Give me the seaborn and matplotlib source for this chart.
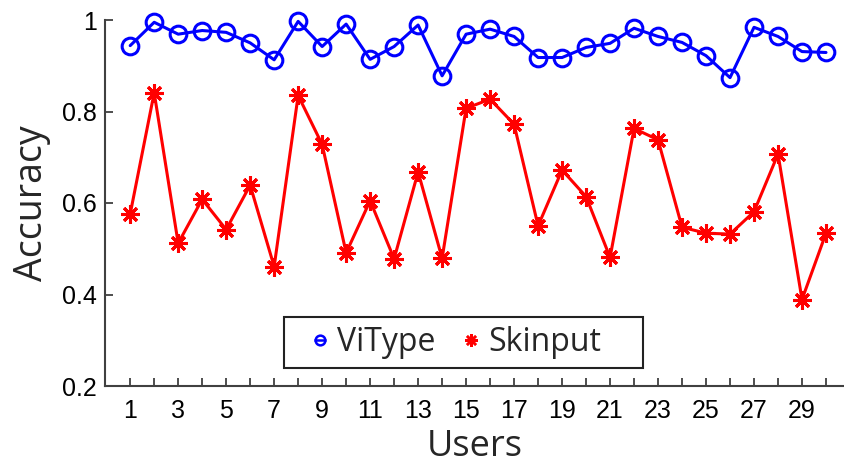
import numpy as np
import pandas as pd
import matplotlib
matplotlib.use("Agg")
import matplotlib.pyplot as plt
import seaborn as sns
from matplotlib.lines import Line2D
from matplotlib.patches import Rectangle
from matplotlib.legend_handler import HandlerTuple

users = list(range(1, 31))
vitype = [0.944, 0.995, 0.969, 0.977, 0.973, 0.950, 0.913, 0.997, 0.942, 0.991,
          0.914, 0.942, 0.989, 0.878, 0.969, 0.980, 0.964, 0.918, 0.918, 0.940,
          0.949, 0.982, 0.964, 0.951, 0.922, 0.874, 0.984, 0.964, 0.931, 0.929]
skinput = [0.576, 0.841, 0.512, 0.608, 0.542, 0.639, 0.461, 0.835, 0.728, 0.491,
           0.605, 0.478, 0.668, 0.479, 0.807, 0.827, 0.772, 0.550, 0.672, 0.614,
           0.481, 0.763, 0.738, 0.547, 0.534, 0.532, 0.581, 0.707, 0.389, 0.534]
yticks = [0.2, 0.4, 0.6, 0.8, 1.0]
ytick_labels = ["0.2", "0.4", "0.6", "0.8", "1"]

df = pd.DataFrame({"Users": users, "ViType": vitype, "Skinput": skinput})

sns.set_style("white")
plt.rcParams["font.family"] = ["Liberation Sans", "DejaVu Sans"]

W, H = 844, 466
fig = plt.figure(figsize=(W / 100, H / 100), dpi=100)
ax = fig.add_axes([105 / W, 1 - 386 / H, (844 - 105) / W, (386 - 20) / H])

star = (8, 2, 0)
sns.lineplot(data=df, x="Users", y="ViType", ax=ax, color="#0000ff", lw=2.2,
             marker="o", markersize=12, markerfacecolor="none",
             markeredgecolor="#0000ff", markeredgewidth=2.2, clip_on=False)
sns.lineplot(data=df, x="Users", y="Skinput", ax=ax, color="#ff0000", lw=2.2,
             marker=star, markersize=13, markeredgecolor="#ff0000",
             markeredgewidth=2.2, clip_on=False)

ax.set_xlim(-0.05, 30.75)
ax.set_ylim(0.2, 1.0)
ax.set_xticks(users)
ax.set_xticklabels([str(u) if u % 2 == 1 else "" for u in users])
ax.set_yticks(yticks)
ax.set_yticklabels(ytick_labels)

for s in ["top", "right"]:
    ax.spines[s].set_visible(False)
for s in ["left", "bottom"]:
    ax.spines[s].set_color("#404040")
    ax.spines[s].set_linewidth(1.5)

ax.tick_params(axis="both", direction="in", length=6, width=1.3, color="#404040",
               labelsize=18, labelcolor="black", bottom=True, left=True)
ax.tick_params(axis="x", pad=9)
ax.tick_params(axis="y", pad=6)

ax.set_xlabel("Users", fontsize=26, family=["Open Sans", "DejaVu Sans"], labelpad=5)
ax.set_ylabel("Accuracy", fontsize=27, family=["Open Sans", "DejaVu Sans"], labelpad=8)

blue_circle = Line2D([], [], color="#0000ff", lw=0, marker="o", markersize=7,
                     markerfacecolor="none", markeredgewidth=1.8)
blue_dash = Line2D([], [], color="#0000ff", lw=0, marker="_", markersize=8,
                   markeredgewidth=1.8)
red_star = Line2D([], [], color="#ff0000", lw=0, marker=star, markersize=9,
                  markeredgewidth=1.8)
fs = 23
leg = ax.legend([(blue_circle, blue_dash), red_star], ["ViType", "Skinput"], ncol=2,
                loc="center left", bbox_to_anchor=(307 / W, 1 - 342.5 / H),
                bbox_transform=fig.transFigure, frameon=False,
                handler_map={tuple: HandlerTuple(ndivide=1, pad=0)},
                prop={"family": ["Open Sans", "DejaVu Sans"], "size": fs},
                handlelength=0.8, handletextpad=0.15, columnspacing=0.7,
                borderpad=0.0, borderaxespad=0.0)
fig.patches.append(Rectangle((284 / W, 1 - 368 / H), (643 - 284) / W, (368 - 317) / H,
                             transform=fig.transFigure, fill=False,
                             edgecolor="#222222", lw=1.5, zorder=5))

fig.savefig("out.png", dpi=100)
